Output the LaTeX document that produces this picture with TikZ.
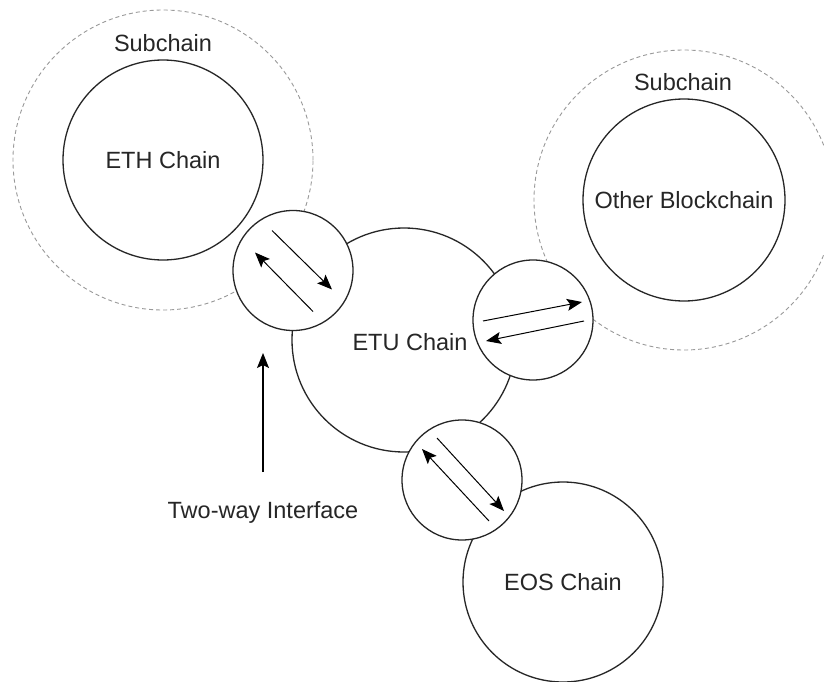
\documentclass[tikz,border=0pt]{standalone}
\usepackage{fontspec}
\setmainfont{Liberation Sans}
\usetikzlibrary{arrows.meta}
\tikzset{
  chain/.style={circle,draw=black!85,line width=1.3pt,fill=white,inner sep=0pt,text=black!85},
  iface/.style={circle,draw=black!85,line width=1.3pt,fill=white,inner sep=0pt,minimum size=120pt},
  sub/.style={circle,draw=black!40,line width=0.9pt,dash pattern=on 4pt off 3pt,inner sep=0pt,minimum size=300pt},
  lbl/.style={text=black!85,inner sep=0pt},
  arr/.style={line width=1pt,draw=black,arrows={-Stealth[length=15pt,width=12pt,inset=3pt]}}
}
\begin{document}
\begin{tikzpicture}[x=1pt,y=-1pt]
\useasboundingbox (0,0) rectangle (824,682);
\fill[white] (0,0) rectangle (824,682);
\begin{scope}
\clip (0,0) rectangle (824,682);
\fontsize{23.5}{28}\selectfont
% subchain halos
\node[sub] (sub1) at (163,160) {};
\node[sub] (sub2) at (684,200) {};
\node[lbl] (sublbl1) at (163,43) {Subchain};
\node[lbl] (sublbl2) at (683,82) {Subchain};
% chains
\node[chain,minimum size=200pt] (eth) at (163,160) {ETH Chain};
\node[chain,minimum size=202pt] (other) at (684,200) {Other Blockchain};
\node[chain,minimum size=224pt] (etu) at (404,340) {};
\node[lbl] (etulbl) at (410,342) {ETU Chain};
\node[chain,minimum size=200pt] (eos) at (563,582) {EOS Chain};
% interfaces
\node[iface] (if1) at (293,270.5) {};
\node[iface] (if2) at (533,320) {};
\node[iface] (if3) at (462,480) {};
\draw[arr] ([shift={(-21,-40)}]if1.center) -- ([shift={(39,19)}]if1.center);
\draw[arr] ([shift={(20,41)}]if1.center) -- ([shift={(-38,-18)}]if1.center);
\draw[arr] ([shift={(-50,1)}]if2.center) -- ([shift={(49,-18)}]if2.center);
\draw[arr] ([shift={(51,1)}]if2.center) -- ([shift={(-47,21)}]if2.center);
\draw[arr] ([shift={(-25,-42)}]if3.center) -- ([shift={(42,31)}]if3.center);
\draw[arr] ([shift={(27,41)}]if3.center) -- ([shift={(-40,-31)}]if3.center);
% pointer
\node[lbl] (twoway) at (263,512) {Two-way Interface};
\coordinate (ptrstart) at (263,472);
\coordinate (ptrtip) at (263,353);
\draw[arr,line width=1.3pt] (ptrstart) -- (ptrtip);
\end{scope}
\end{tikzpicture}
\end{document}
